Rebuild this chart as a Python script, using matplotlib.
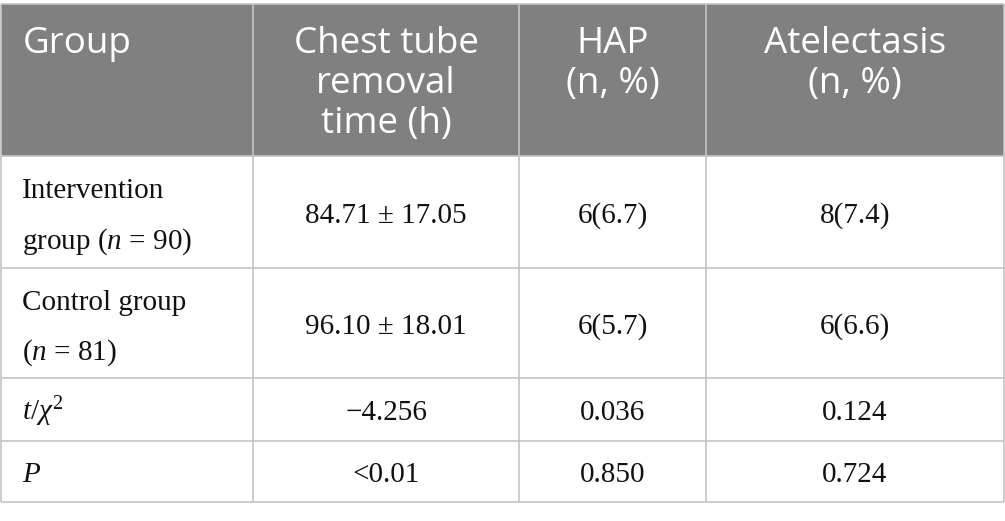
import matplotlib
matplotlib.use("Agg")
import matplotlib.pyplot as plt
from matplotlib.patches import Rectangle

# ---- table content ----
headers = [["Group"], ["Chest tube", "removal", "time (h)"], ["HAP", "(n, %)"], ["Atelectasis", "(n, %)"]]
groups = [["Intervention", "group ($n$ = 90)"], ["Control group", "($n$ = 81)"], ["$t/\\chi^2$"], ["$P$"]]
chest_tube = ["84.71 ± 17.05", "96.10 ± 18.01", "\u22124.256", "<0.01"]
hap = ["6(6.7)", "6(5.7)", "0.036", "0.850"]
atelectasis = ["8(7.4)", "6(6.6)", "0.124", "0.724"]

# ---- layout (pixels) ----
W, H = 1005, 521
col_edges = [1, 253, 519, 706, 1004]
row_edges = [4, 156, 268, 378, 441, 502]
header_color = "#808080"
grid_color = "#c4c4c4"
text_color = "#111111"
serif = "Liberation Serif"
sans = "Open Sans"

plt.rcParams["mathtext.fontset"] = "custom"
plt.rcParams["mathtext.rm"] = serif
plt.rcParams["mathtext.it"] = serif + ":italic"

fig = plt.figure(figsize=(W / 100, H / 100), dpi=100)
ax = fig.add_axes([0, 0, 1, 1])
ax.set_xlim(0, W)
ax.set_ylim(H, 0)
ax.axis("off")

# header background
ax.add_patch(Rectangle((col_edges[0], row_edges[0]), col_edges[-1] - col_edges[0],
                       row_edges[1] - row_edges[0], facecolor=header_color, edgecolor="none", zorder=1))

# grid lines
for y in row_edges:
    ax.plot([col_edges[0], col_edges[-1]], [y, y], color=grid_color, lw=1.2, zorder=2,
            solid_capstyle="butt")
for x in col_edges:
    ax.plot([x, x], [row_edges[0], row_edges[-1]], color=grid_color, lw=1.2, zorder=2,
            solid_capstyle="butt")

pad = 22
HFS = 26.5
BFS = 21

# header text
for ci, lines in enumerate(headers):
    x0, x1 = col_edges[ci], col_edges[ci + 1]
    for li, line in enumerate(lines):
        y = row_edges[0] + 49 + 40 * li
        if ci == 0:
            ax.text(x0 + pad, y, line, ha="left", va="baseline", fontsize=HFS,
                    family=sans, fontweight="normal", color="white", zorder=3)
        else:
            ax.text((x0 + x1) / 2, y, line, ha="center", va="baseline", fontsize=HFS,
                    family=sans, fontweight="normal", color="white", zorder=3)

# body text
columns = [groups, chest_tube, hap, atelectasis]
for ri in range(4):
    top, bot = row_edges[ri + 1], row_edges[ri + 2]
    cy = (top + bot) / 2
    for ci, col in enumerate(columns):
        val = col[ri]
        lines = val if isinstance(val, list) else [val]
        x0, x1 = col_edges[ci], col_edges[ci + 1]
        if len(lines) == 1:
            ys = [cy + 11]
        else:
            ys = [cy - 13.5, cy + 36.5]
        for line, y in zip(lines, ys):
            if ci == 0:
                ax.text(x0 + pad - 1, y, line, ha="left", va="baseline", fontsize=BFS,
                        family=serif, color=text_color, zorder=3)
            else:
                ax.text((x0 + x1) / 2, y, line, ha="center", va="baseline", fontsize=BFS,
                        family=serif, color=text_color, zorder=3)

fig.savefig("out.png", dpi=100, facecolor="white")
